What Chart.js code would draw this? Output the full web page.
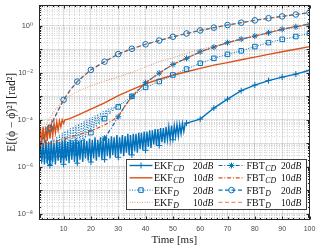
<!DOCTYPE html>
<html lang="en">
<head>
<meta charset="UTF-8">
<title>Phase error over time</title>
<script src="https://cdn.jsdelivr.net/npm/chart.js@4.4.0/dist/chart.umd.min.js"></script>
<style>
  html, body { margin: 0; padding: 0; background: #fff; }
  #wrap { width: 317px; height: 249px; }
</style>
</head>
<body>
<div id="wrap"><canvas id="chrt" width="317" height="249"></canvas></div>
<script>
// values (rad^2), time in ms
// noisy stretches: "Lo" sits on the whole ms, "Hi" on the half ms after it

// EKF_CD 20dB
const ekfCd20Lo = [1.12e-6, 1.58e-6, 1.26e-6, 1.41e-6, 1.12e-6, 1.58e-6, 1.26e-6, 1.78e-6, 1.41e-6, 1.26e-6,
  1.78e-6, 1.41e-6, 2.0e-6, 1.58e-6, 1.41e-6, 2.0e-6, 1.58e-6, 2.24e-6, 1.78e-6, 1.58e-6,
  2.24e-6, 1.78e-6, 2.51e-6, 2.0e-6, 2.0e-6, 2.82e-6, 2.24e-6, 3.16e-6, 2.51e-6, 2.51e-6,
  3.55e-6, 2.82e-6, 3.98e-6, 3.16e-6, 3.16e-6, 4.47e-6, 3.98e-6, 5.62e-6, 5.01e-6, 5.01e-6,
  7.08e-6, 6.31e-6, 8.91e-6, 7.94e-6, 7.94e-6, 1.12e-5, 1.0e-5, 1.41e-5, 1.41e-5, 1.41e-5,
  2.0e-5, 2.0e-5, 2.51e-5, 3.16e-5]
const ekfCd20Hi = [1.26e-5, 1.0e-5, 1.41e-5, 1.12e-5, 1.26e-5, 1.0e-5, 1.41e-5, 1.12e-5, 1.26e-5, 1.41e-5,
  1.12e-5, 1.41e-5, 1.26e-5, 1.58e-5, 1.26e-5, 1.41e-5, 1.58e-5, 1.26e-5, 1.58e-5, 1.41e-5,
  1.78e-5, 1.41e-5, 1.78e-5, 1.58e-5, 2.0e-5, 1.58e-5, 2.0e-5, 1.78e-5, 2.24e-5, 1.78e-5,
  2.24e-5, 2.0e-5, 2.51e-5, 2.24e-5, 2.51e-5, 2.51e-5, 2.82e-5, 2.82e-5, 3.16e-5, 3.16e-5,
  3.55e-5, 3.55e-5, 3.98e-5, 3.98e-5, 4.47e-5, 4.47e-5, 5.01e-5, 5.01e-5, 5.62e-5, 5.62e-5,
  6.31e-5, 6.31e-5, 7.08e-5, 7.08e-5]
const ekfCd20T = [55, 60, 65, 70, 75, 80, 85, 90, 95, 100]
const ekfCd20Y = [7.24e-5, 1.07e-4, 3.16e-4, 7.59e-4, 1.74e-3, 3.02e-3, 4.68e-3, 6.61e-3, 8.91e-3, 1.29e-2]

// EKF_CD 10dB
const ekfCd10Lo = [7.94e-6, 8.91e-6, 1.0e-5, 1.26e-5, 1.58e-5, 2.0e-5, 2.82e-5, 3.55e-5, 5.01e-5, 7.08e-5]
const ekfCd10Hi = [4.47e-5, 5.01e-5, 5.01e-5, 6.31e-5, 6.31e-5, 7.08e-5, 7.94e-5, 8.91e-5, 1.0e-4, 1.0e-4]
const ekfCd10T = [12, 15, 20, 25, 30, 35, 40, 45, 50, 55, 60, 65, 70, 75, 80, 85, 90, 95, 100]
const ekfCd10Y = [1.1e-4, 1.55e-4, 2.82e-4, 5.25e-4, 1.07e-3, 1.95e-3, 3.39e-3, 5.37e-3, 7.94e-3, 1.12e-2,
  1.55e-2, 2.14e-2, 2.75e-2, 3.63e-2, 4.68e-2, 6.17e-2, 7.94e-2, 0.102, 0.132]

// EKF_D 20dB
const ekfD20Lo = [1.26e-6, 1.26e-6, 1.32e-6, 1.41e-6, 1.58e-6, 1.78e-6, 2.0e-6, 2.4e-6, 2.75e-6, 3.16e-6,
  3.8e-6, 4.47e-6, 5.37e-6, 6.46e-6, 7.94e-6, 1.0e-5, 1.26e-5, 1.66e-5, 2.19e-5, 2.82e-5,
  3.72e-5, 4.9e-5, 6.46e-5, 8.51e-5, 1.12e-4, 1.41e-4, 1.78e-4, 2.24e-4, 2.82e-4, 3.55e-4,
  4.37e-4, 5.37e-4, 6.61e-4, 8.13e-4]
const ekfD20Hi = [1.0e-5, 1.05e-5, 1.12e-5, 1.2e-5, 1.32e-5, 1.58e-5, 1.91e-5, 2.29e-5, 2.75e-5, 3.31e-5,
  3.8e-5, 4.37e-5, 5.01e-5, 5.75e-5, 6.61e-5, 7.59e-5, 8.71e-5, 1.0e-4, 1.15e-4, 1.32e-4,
  1.51e-4, 1.74e-4, 2.0e-4, 2.29e-4, 2.63e-4, 2.95e-4, 3.31e-4, 3.72e-4, 4.17e-4, 4.79e-4,
  5.5e-4, 6.31e-4, 7.41e-4, 8.71e-4]
const ekfD20T = [35, 40, 45, 50, 55, 60, 65, 70, 75, 80, 85, 90, 95, 100]
const ekfD20Y = [1.0e-3, 2.4e-3, 4.27e-3, 8.13e-3, 1.45e-2, 2.57e-2, 4.17e-2, 6.17e-2, 8.71e-2, 0.132,
  0.195, 0.269, 0.355, 0.49]

// EKF_D 10dB
const ekfD10T = [1, 2, 3, 4, 5, 6, 8, 10, 12, 15, 20, 25, 30, 35, 40, 45, 50, 55, 60, 65, 70, 75, 80, 85, 90, 95, 100]
const ekfD10Y = [1.26e-5, 2.51e-5, 4.47e-5, 7.41e-5, 1.2e-4, 1.91e-4, 3.8e-4, 6.61e-4, 1.0e-3, 1.58e-3,
  2.82e-3, 4.47e-3, 6.76e-3, 1.05e-2, 1.78e-2, 3.02e-2, 4.37e-2, 6.76e-2, 0.1, 0.138,
  0.191, 0.269, 0.372, 0.513, 0.708, 0.912, 1.15]

// FBT_CD 20dB / 10dB
const fbtCd20T = [1, 5, 10, 15, 20, 22.5, 25, 27.5, 30, 32.5, 35, 40, 45, 50, 55, 60, 65, 70, 75, 80, 85, 90, 95, 100]
const fbtCd20Y = [2.51e-6, 2.51e-6, 2.82e-6, 3.55e-6, 4.47e-6, 7.08e-6, 1.66e-5, 4.47e-5, 1.35e-4, 3.98e-4,
  1.0e-3, 3.8e-3, 9.77e-3, 2.29e-2, 4.17e-2, 7.94e-2, 0.126, 0.195, 0.275, 0.372, 0.513, 0.724, 0.933, 1.2]
const fbtCd10T = [1, 5, 10, 15, 20, 25, 27.5, 30, 32.5, 35, 40, 45, 50, 55, 60, 65, 70, 75, 80, 85, 90, 95, 100]
const fbtCd10Y = [7.94e-6, 1.0e-5, 1.51e-5, 2.24e-5, 3.31e-5, 6.03e-5, 8.91e-5, 1.38e-4, 3.98e-4, 1.0e-3,
  3.8e-3, 9.77e-3, 2.29e-2, 4.17e-2, 7.94e-2, 0.126, 0.195, 0.275, 0.372, 0.513, 0.724, 0.933, 1.2]

// FBT_D 20dB / 10dB
const fbtDT = [1, 3, 5, 6, 8, 10, 12.5, 15, 20, 25, 30, 35, 40, 45, 50, 55, 60, 65, 70, 75, 80, 85, 90, 95, 100]
const fbtD20Y = [8.91e-6, 1.95e-5, 4.47e-5, 8.51e-5, 2.51e-4, 7.08e-4, 1.91e-3, 4.27e-3, 1.35e-2, 3.02e-2,
  6.31e-2, 0.107, 0.166, 0.24, 0.347, 0.479, 0.646, 0.851, 1.1, 1.38, 1.74, 2.14, 2.57, 3.09, 3.72]
const fbtD10Y = [1.0e-5, 2.0e-5, 4.47e-5, 8.51e-5, 2.51e-4, 7.08e-4, 1.91e-3, 4.27e-3, 1.35e-2, 3.02e-2,
  6.31e-2, 0.107, 0.166, 0.24, 0.347, 0.479, 0.646, 0.851, 1.1, 1.38, 1.74, 2.14, 2.57, 3.09, 3.72]

function noisy(lo, hi, t0) {
  let out = []
  lo.forEach((v, i) => {
    out.push({ x: t0 + i, y: v })
    out.push({ x: t0 + i + 0.5, y: hi[i] })
  })
  return out
}
function pts(ts, ys) {
  return ts.map((t, i) => ({ x: t, y: ys[i] }))
}

const blue = '#0072BD'
const orange = '#D95319'
const orangeLight = 'rgba(217,83,25,0.62)'
const DOT = [1, 1.5], DASH = [4, 2.5], DASHDOT = [4, 1.8, 1, 1.8]

const series = [
  { name: 'EKF', sub: 'CD', snr: '20', data: noisy(ekfCd20Lo, ekfCd20Hi, 1).concat(pts(ekfCd20T, ekfCd20Y)), color: blue, width: 1.4, dash: [], mark: 'cross', r: 3 },
  { name: 'EKF', sub: 'CD', snr: '10', data: noisy(ekfCd10Lo, ekfCd10Hi, 1).concat(pts(ekfCd10T, ekfCd10Y)), color: orange, width: 1.4, dash: [] },
  { name: 'EKF', sub: 'D', snr: '20', data: noisy(ekfD20Lo, ekfD20Hi, 1).concat(pts(ekfD20T, ekfD20Y)), color: blue, width: 1, dash: DOT, mark: 'rect', r: 3.2 },
  { name: 'EKF', sub: 'D', snr: '10', data: pts(ekfD10T, ekfD10Y), color: orangeLight, width: 1, dash: DOT },
  { name: 'FBT', sub: 'CD', snr: '20', data: pts(fbtCd20T, fbtCd20Y), color: blue, width: 1.2, dash: DASHDOT, mark: 'star', r: 3 },
  { name: 'FBT', sub: 'CD', snr: '10', data: pts(fbtCd10T, fbtCd10Y), color: orange, width: 1.2, dash: DASHDOT },
  { name: 'FBT', sub: 'D', snr: '20', data: pts(fbtDT, fbtD20Y), color: blue, width: 1.2, dash: DASH, mark: 'circle', r: 2.8 },
  { name: 'FBT', sub: 'D', snr: '10', data: pts(fbtDT, fbtD10Y), color: orangeLight, width: 1.2, dash: DASH }
]

const datasets = series.map((s, i) => ({
  data: s.data,
  borderColor: s.color,
  borderWidth: s.width,
  borderDash: s.dash,
  fill: false,
  pointStyle: s.mark || 'circle',
  pointBorderColor: s.color,
  pointBackgroundColor: 'rgba(0,0,0,0)',
  pointBorderWidth: 1,
  pointRadius: c => (s.mark && c.raw && c.raw.x % 5 === 0) ? s.r : 0,
  order: series.length - i
}))

const supMap = { '-': '\u207B', '0': '\u2070', '1': '\u00B9', '2': '\u00B2', '3': '\u00B3', '4': '\u2074', '5': '\u2075', '6': '\u2076', '7': '\u2077', '8': '\u2078', '9': '\u2079' }
function isDecade(v) {
  const l = Math.log10(v)
  return Math.abs(l - Math.round(l)) < 1e-6
}

function marker(ctx, style, x, y, r) {
  ctx.beginPath()
  if (style === 'cross' || style === 'star') {
    ctx.moveTo(x - r, y); ctx.lineTo(x + r, y)
    ctx.moveTo(x, y - r); ctx.lineTo(x, y + r)
    if (style === 'star') {
      const d = r * Math.SQRT1_2
      ctx.moveTo(x - d, y - d); ctx.lineTo(x + d, y + d)
      ctx.moveTo(x - d, y + d); ctx.lineTo(x + d, y - d)
    }
  } else if (style === 'rect') {
    const s = r * Math.SQRT1_2
    ctx.rect(x - s, y - s, 2 * s, 2 * s)
  } else if (style === 'circle') {
    ctx.arc(x, y, r, 0, Math.PI * 2)
  }
  ctx.stroke()
}

function drawLegend(ctx) {
  const bx = 126.5, by = 159.5, bw = 180, bh = 50, rowH = 12.3
  ctx.fillStyle = '#fff'
  ctx.fillRect(bx, by, bw, bh)
  ctx.strokeStyle = '#404040'
  ctx.lineWidth = 1
  ctx.strokeRect(bx, by, bw, bh)
  const cols = [
    { x1: 129.5, x2: 152.5, tx: 154, nx: 193 },
    { x1: 218.5, x2: 244.5, tx: 246.5, nx: 281 }
  ]
  series.forEach((s, i) => {
    const c = cols[i >> 2]
    const cy = by + 6 + (i % 4) * rowH
    ctx.strokeStyle = s.color
    ctx.lineWidth = s.width
    ctx.setLineDash(s.dash)
    ctx.beginPath()
    ctx.moveTo(c.x1, cy)
    ctx.lineTo(c.x2, cy)
    ctx.stroke()
    ctx.setLineDash([])
    if (s.mark) {
      ctx.lineWidth = 1
      marker(ctx, s.mark, (c.x1 + c.x2) / 2, cy, s.r)
    }
    ctx.fillStyle = '#111'
    ctx.textBaseline = 'alphabetic'
    ctx.font = '10px "Liberation Serif"'
    ctx.fillText(s.name, c.tx, cy + 3.4)
    const w = ctx.measureText(s.name).width
    ctx.font = 'italic 7.8px "Liberation Serif"'
    ctx.fillText(s.sub, c.tx + w + 0.4, cy + 5.4)
    ctx.font = '9.5px "Liberation Serif"'
    ctx.fillText(s.snr, c.nx, cy + 3.4)
    const w2 = ctx.measureText(s.snr).width
    ctx.font = 'italic 9.5px "Liberation Serif"'
    ctx.fillText('dB', c.nx + w2 + 0.3, cy + 3.4)
  })
}

const frame = {
  id: 'frame',
  afterDraw(chart) {
    const { ctx, chartArea: a, scales: { x, y } } = chart
    const L = Math.round(a.left) + 0.5, R = Math.round(a.right) - 0.5
    const T = Math.round(a.top) + 0.5, B = Math.round(a.bottom) - 0.5
    ctx.save()
    ctx.strokeStyle = '#262626'
    ctx.lineWidth = 1
    ctx.strokeRect(L, T, R - L, B - T)
    ctx.beginPath()
    x.ticks.forEach(t => {
      const px = Math.round(x.getPixelForValue(t.value)) + 0.5
      const len = t.value % 10 === 0 ? 3 : 1.5
      ctx.moveTo(px, B); ctx.lineTo(px, B - len)
      ctx.moveTo(px, T); ctx.lineTo(px, T + len)
    })
    y.ticks.forEach(t => {
      const py = Math.round(y.getPixelForValue(t.value)) + 0.5
      const len = isDecade(t.value) ? 3 : 1.5
      ctx.moveTo(L, py); ctx.lineTo(L + len, py)
      ctx.moveTo(R, py); ctx.lineTo(R - len, py)
    })
    ctx.stroke()
    drawLegend(ctx)
    ctx.restore()
  }
}

Chart.defaults.font.family = '"Liberation Sans", "DejaVu Sans", sans-serif'

let myChart = new Chart(document.getElementById('chrt').getContext('2d'), {
  type: 'line',
  data: { datasets: datasets },
  options: {
    responsive: false,
    animation: false,
    events: [],
    layout: { padding: { left: 0, top: 5, right: 7.5, bottom: 0 } },
    plugins: { legend: { display: false }, tooltip: { enabled: false } },
    scales: {
      x: {
        type: 'linear',
        min: 1,
        max: 100,
        afterBuildTicks: s => {
          let t = []
          for (let v = 2; v <= 100; v += 2) t.push({ value: v })
          s.ticks = t
        },
        afterFit: s => { s.height = 29.5; s.paddingLeft = 0; s.paddingRight = 0 },
        ticks: {
          autoSkip: false,
          maxRotation: 0,
          padding: 5,
          color: '#4a4a4a',
          font: { size: 7 },
          callback: v => (v % 10 === 0 ? String(v) : '')
        },
        grid: {
          drawTicks: false,
          color: c => (c.tick && c.tick.value % 10 === 0) ? 'rgba(0,0,0,0.13)' : 'rgba(0,0,0,0.16)'
        },
        border: { display: false, dash: c => (c.tick && c.tick.value % 10 === 0) ? [] : [1, 1.5] },
        title: {
          display: true,
          text: 'Time [ms]',
          color: '#1a1a1a',
          font: { family: '"Liberation Serif", serif', size: 11 },
          padding: { top: 0, bottom: 2 }
        }
      },
      y: {
        type: 'logarithmic',
        min: 5.6e-9,
        max: 7.85,
        afterBuildTicks: s => {
          let t = []
          for (let e = -9; e <= 1; e++) {
            for (let m = 1; m <= 9; m++) {
              const v = m * Math.pow(10, e)
              if (v >= s.min && v <= s.max) t.push({ value: v })
            }
          }
          s.ticks = t
        },
        afterFit: s => { s.width = 39; s.paddingTop = 0; s.paddingBottom = 0 },
        ticks: {
          autoSkip: false,
          padding: 6,
          color: '#4a4a4a',
          font: { size: 7.5 },
          callback: v => {
            if (!isDecade(v)) return ''
            const e = Math.round(Math.log10(v))
            if (e % 2 !== 0) return ''
            return '10' + String(e).split('').map(ch => supMap[ch]).join('')
          }
        },
        grid: {
          drawTicks: false,
          color: c => (c.tick && isDecade(c.tick.value)) ? 'rgba(0,0,0,0.13)' : 'rgba(0,0,0,0.16)'
        },
        border: { display: false, dash: c => (c.tick && isDecade(c.tick.value)) ? [] : [1, 1.5] },
        title: {
          display: true,
          text: 'E[(\u03D5 \u2212 \u03D5\u0302)\u00B2] [rad\u00B2]',
          color: '#1a1a1a',
          font: { family: '"Liberation Serif", serif', size: 11.5 },
          padding: { top: 5, bottom: 0 }
        }
      }
    }
  },
  plugins: [frame]
})
</script>
</body>
</html>
